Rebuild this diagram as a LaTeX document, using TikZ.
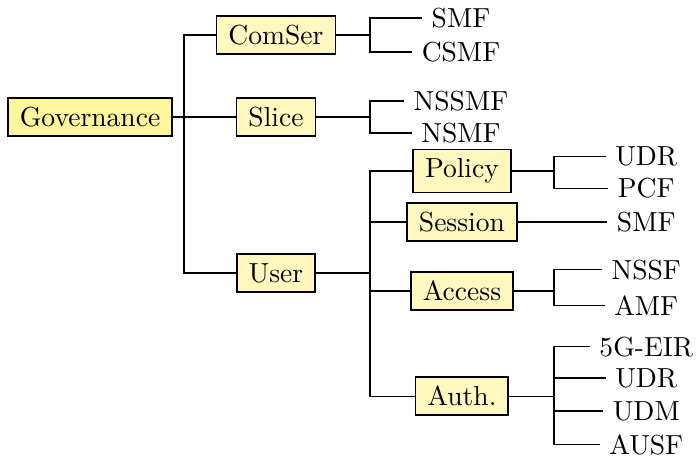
\documentclass[tikz,border=0pt]{standalone}
\definecolor{govfill}{HTML}{FFF59A}
\definecolor{boxfill}{HTML}{FFF9C0}
\begin{document}
\begin{tikzpicture}[
    box/.style={draw, semithick, fill=boxfill, inner xsep=4.3pt},
    rootbox/.style={box, fill=govfill},
    leaf/.style={}
  ]
    \useasboundingbox (0,0) rectangle (8.874,-5.878);
    \node[rootbox] (gov) at (1.148,-1.492){Governance};
    \node[box] (comser) at (3.519,-0.446){ComSer};
    \node[box] (slice) at (3.519,-1.492){Slice};
    \node[box] (user) at (3.519,-3.481){User};
    \coordinate (fgov) at (2.346,-1.492);
    \draw[](gov.east) -- (fgov) |- (comser.west);
    \draw[](gov.east) -- (fgov) |- (slice.west);
    \draw[](gov.east) -- (fgov) |- (user.west);
    \node[leaf] (smfa) at (5.878,-0.230){SMF};
    \node[leaf] (csmf) at (5.878,-0.663){CSMF};
    \coordinate (fcom) at (4.718,-0.446);
    \draw[](comser.east) -- (fcom) |- (smfa.west);
    \draw[](comser.east) -- (fcom) |- (csmf.west);
    \node[leaf] (nssmf) at (5.878,-1.288){NSSMF};
    \node[leaf] (nsmf) at (5.878,-1.696){NSMF};
    \coordinate (fslice) at (4.718,-1.492);
    \draw[](slice.east) -- (fslice) |- (nssmf.west);
    \draw[](slice.east) -- (fslice) |- (nsmf.west);
    \node[box] (policy) at (5.89,-2.18){Policy};
    \node[box] (session) at (5.89,-2.83){Session};
    \node[box] (access) at (5.89,-3.71){Access};
    \node[box] (auth) at (5.89,-5.05){Auth.};
    \coordinate (fuser) at (4.718,-3.481);
    \draw[](user.east) -- (fuser) |- (policy.west);
    \draw[](user.east) -- (fuser) |- (session.west);
    \draw[](user.east) -- (fuser) |- (access.west);
    \draw[](user.east) -- (fuser) |- (auth.west);
    \node[leaf] (udra) at (8.24,-2.00){UDR};
    \node[leaf] (pcf) at (8.24,-2.40){PCF};
    \coordinate (fpol) at (7.064,-2.18);
    \draw[](policy.east) -- (fpol) |- (udra.west);
    \draw[](policy.east) -- (fpol) |- (pcf.west);
    \node[leaf] (smfb) at (8.24,-2.83){SMF};
    \draw[](session.east) -- (smfb.west);
    \node[leaf] (nssf) at (8.24,-3.44){NSSF};
    \node[leaf] (amf) at (8.24,-3.90){AMF};
    \coordinate (facc) at (7.064,-3.71);
    \draw[](access.east) -- (facc) |- (nssf.west);
    \draw[](access.east) -- (facc) |- (amf.west);
    \node[leaf] (eir) at (8.24,-4.42){5G-EIR};
    \node[leaf] (udrb) at (8.24,-4.82){UDR};
    \node[leaf] (udm) at (8.24,-5.24){UDM};
    \node[leaf] (ausf) at (8.24,-5.67){AUSF};
    \coordinate (fauth) at (7.064,-5.05);
    \draw[](auth.east) -- (fauth) |- (eir.west);
    \draw[](auth.east) -- (fauth) |- (udrb.west);
    \draw[](auth.east) -- (fauth) |- (udm.west);
    \draw[](auth.east) -- (fauth) |- (ausf.west);
  \end{tikzpicture}
\end{document}
